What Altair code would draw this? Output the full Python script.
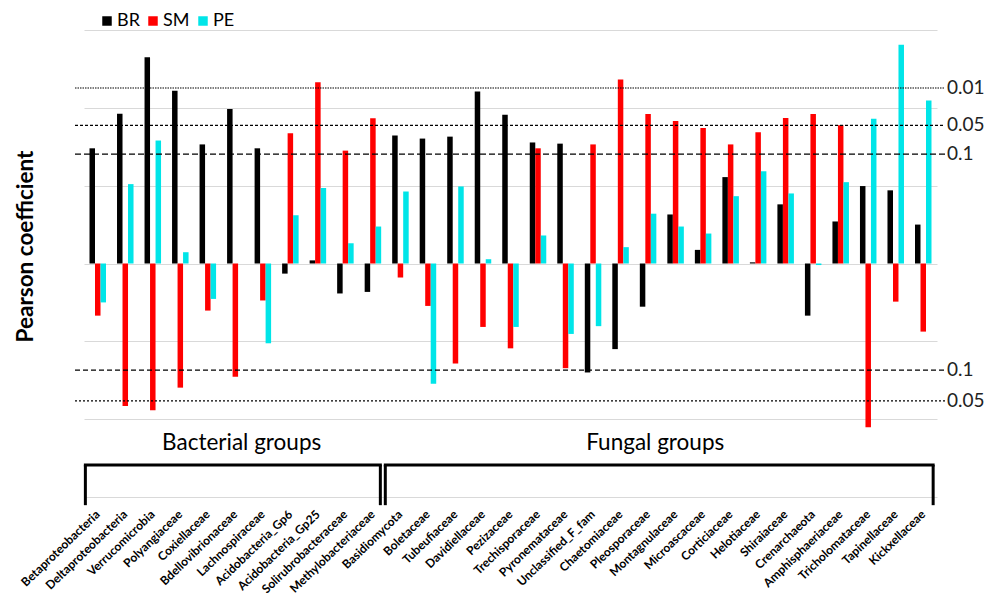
import altair as alt
import pandas as pd

categories = [
    "Betaproteobacteria", "Deltaproteobacteria", "Verrucomicrobia", "Polyangiaceae",
    "Coxiellaceae", "Bdellovibrionaceae", "Lachnospiraceae", "Acidobacteria_Gp6",
    "Acidobacteria_Gp25", "Solirubrobacteraceae", "Methylobacteriaceae", "Basidiomycota",
    "Boletaceae", "Tubeufiaceae", "Davidiellaceae", "Pezizaceae", "Trechisporaceae",
    "Pyronemataceae", "Unclassified_F_fam", "Chaetomiaceae", "Pleosporaceae",
    "Montagnulaceae", "Microascaceae", "Corticiaceae", "Helotiaceae", "Shiraiaceae",
    "Crenarchaeota", "Amphisphaeriaceae", "Tricholomataceae", "Tapinellaceae", "Kickxellaceae",
]
series = ["BR", "SM", "PE"]
br = [0.296, 0.385, 0.530, 0.444, 0.306, 0.397, 0.296, -0.026, 0.008, -0.077, -0.073,
      0.329, 0.321, 0.326, 0.442, 0.382, 0.311, 0.308, -0.280, -0.220, -0.111,
      0.126, 0.035, 0.222, 0.003, 0.152, -0.134, 0.108, 0.199, 0.188, 0.100]
sm = [-0.134, -0.366, -0.377, -0.319, -0.121, -0.291, -0.095, 0.335, 0.466, 0.290, 0.373,
      -0.036, -0.109, -0.257, -0.163, -0.218, 0.296, -0.269, 0.306, 0.473, 0.384,
      0.366, 0.348, 0.306, 0.337, 0.374, 0.384, 0.355, -0.421, -0.098, -0.175]
pe = [-0.100, 0.204, 0.316, 0.029, -0.091, 0.000, -0.205, 0.124, 0.194, 0.052, 0.095,
      0.185, -0.309, 0.198, 0.011, -0.163, 0.072, -0.181, -0.161, 0.042, 0.128,
      0.095, 0.077, 0.173, 0.237, 0.180, -0.004, 0.209, 0.372, 0.562, 0.419]
colors = ["#000000", "#ff0000", "#00e5e8"]

ref_values = [0.451, 0.355, 0.281, -0.274, -0.353]
ref_labels = ["0.01", "0.05", "0.1", "0.1", "0.05"]
ref_styles = ["a", "b", "c", "d", "e"]

group_names = ["Bacterial groups", "Fungal groups"]
group_start = [0.05, 10.95]
group_end = [10.77, 30.86]
group_center = [5.73, 20.76]

W, H = 853, 467
FONT = "Lato"

rows = []
for i, c in enumerate(categories):
    for s, vals in zip(series, [br, sm, pe]):
        rows.append({"cat": c, "series": s, "value": vals[i]})
df = pd.DataFrame(rows)

ref_df = pd.DataFrame({"value": ref_values, "label": ref_labels, "style": ref_styles})
grp_df = pd.DataFrame({
    "name": group_names, "x0": group_start, "x1": group_end, "xc": group_center,
    "ytop": [-0.518] * 2, "ybot": [-0.621] * 2, "ty": [-0.462] * 2,
})

yscale = alt.Scale(domain=[-0.6, 0.6], nice=False)

bars = alt.Chart(df).mark_bar().encode(
    x=alt.X("cat:N", sort=categories,
            scale=alt.Scale(paddingInner=0, paddingOuter=0),
            axis=alt.Axis(title=None, labelAngle=-44, labelAlign="right",
                          labelBaseline="middle", labelFontSize=12, labelFont=FONT,
                          labelFontWeight="bold", labelColor="#000", ticks=False,
                          domain=False, grid=False, labelPadding=15, labelLimit=0)),
    xOffset=alt.XOffset("series:N", sort=series,
                        scale=alt.Scale(paddingInner=0, paddingOuter=1)),
    y=alt.Y("value:Q", scale=yscale,
            axis=alt.Axis(title="Pearson coefficient", values=[-0.6, -0.4, -0.2, 0, 0.2, 0.4, 0.6],
                          labels=False, ticks=False, domain=False, grid=True,
                          gridColor="#d9d9d9", gridWidth=1.2,
                          titleFont=FONT, titleFontSize=22.5, titleFontWeight="bold",
                          titleColor="#000", titleAngle=270, titleX=-59, titleY=216,
                          titleAlign="center", titleBaseline="middle")),
    color=alt.Color("series:N", sort=series,
                    scale=alt.Scale(domain=series, range=colors),
                    legend=alt.Legend(title=None, orient="none", legendX=14, legendY=-18,
                                      direction="horizontal", symbolType="square",
                                      symbolSize=90, symbolStrokeWidth=0,
                                      labelFontSize=18, labelFont=FONT, labelColor="#000",
                                      labelOffset=1, columnPadding=4)),
)

refs = alt.Chart(ref_df).mark_rule(strokeWidth=1.2, color="#000").encode(
    x=alt.value(-9), x2=alt.value(W + 8),
    y=alt.Y("value:Q", scale=yscale),
    strokeDash=alt.StrokeDash("style:N",
                              scale=alt.Scale(domain=ref_styles,
                                              range=[[1.5, 1], [3, 2], [6, 3], [5, 3], [2, 2]]),
                              legend=None),
)

ref_text = alt.Chart(ref_df).mark_text(align="left", baseline="middle", fontSize=19,
                                       font=FONT, color="#222").encode(
    x=alt.value(W + 10),
    y=alt.Y("value:Q", scale=yscale),
    text="label:N",
)

bx = alt.Scale(domain=[0, 31], nice=False, zero=False)
hline = alt.Chart(grp_df).mark_rule(strokeWidth=3, color="#000", strokeCap="square").encode(
    x=alt.X("x0:Q", scale=bx, axis=None), x2="x1:Q",
    y=alt.Y("ytop:Q", scale=yscale),
)
vleft = alt.Chart(grp_df).mark_rule(strokeWidth=3, color="#000").encode(
    x=alt.X("x0:Q", scale=bx, axis=None),
    y=alt.Y("ytop:Q", scale=yscale), y2="ybot:Q",
)
vright = alt.Chart(grp_df).mark_rule(strokeWidth=3, color="#000").encode(
    x=alt.X("x1:Q", scale=bx, axis=None),
    y=alt.Y("ytop:Q", scale=yscale), y2="ybot:Q",
)
gtext = alt.Chart(grp_df).mark_text(fontSize=22.5, font=FONT, color="#000",
                                    baseline="middle", align="center").encode(
    x=alt.X("xc:Q", scale=bx, axis=None),
    y=alt.Y("ty:Q", scale=yscale),
    text="name:N",
)

chart = alt.layer(bars, refs, ref_text, hline, vleft, vright, gtext).resolve_scale(
    x="independent"
).properties(
    width=W, height=H,
    autosize=alt.AutoSizeParams(type="none"),
    padding={"left": 76, "top": 22, "right": 47, "bottom": 104},
).configure_view(stroke=None)

chart.save("out.html", embed_options={"renderer": "svg", "actions": False})
